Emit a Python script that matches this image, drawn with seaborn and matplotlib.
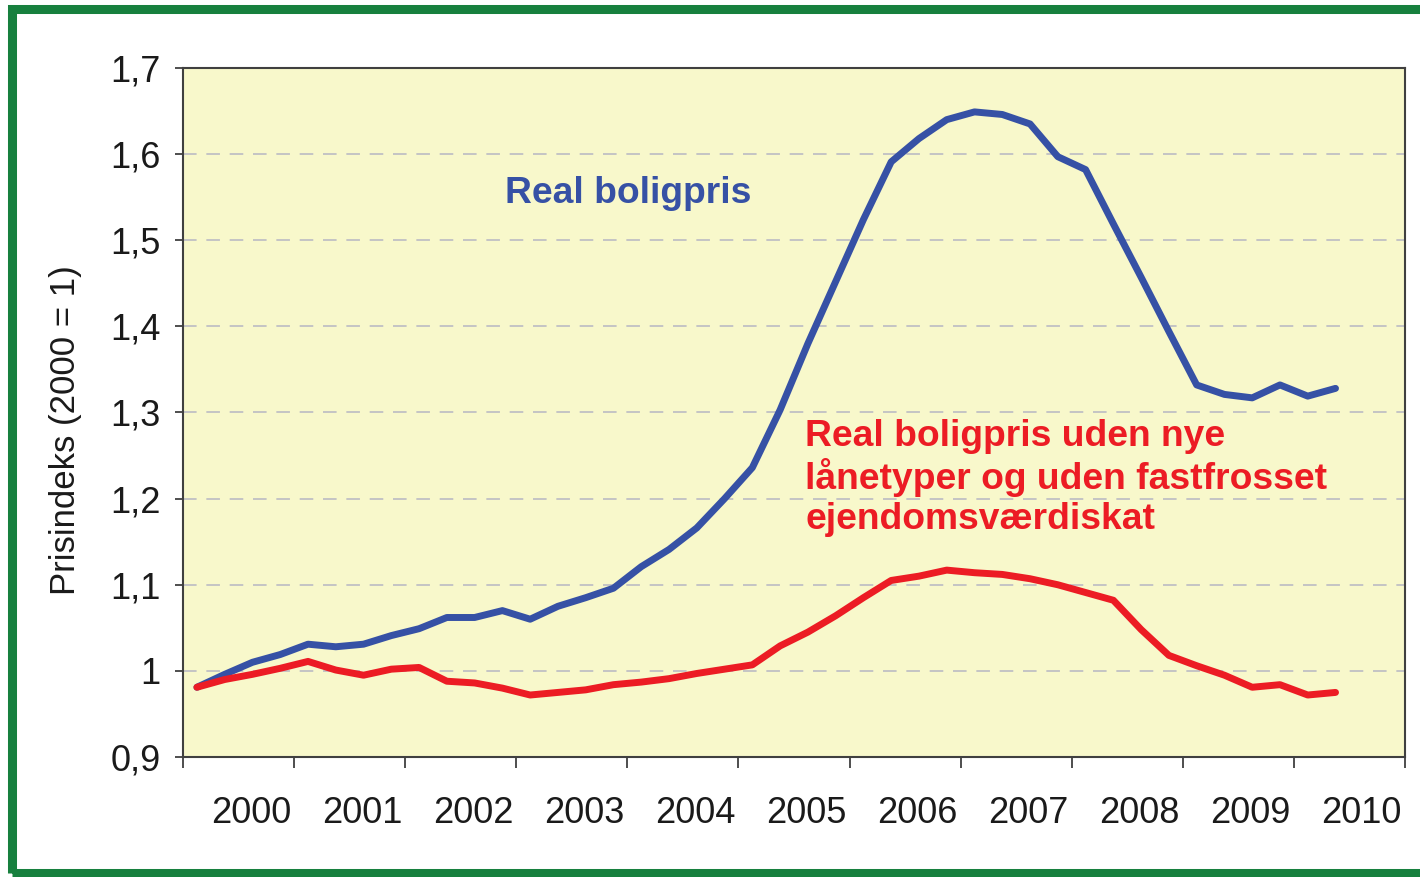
import numpy as np
import pandas as pd
import matplotlib
matplotlib.use("Agg")
import matplotlib.pyplot as plt
import matplotlib.patches as patches
from matplotlib.ticker import FixedLocator, FuncFormatter, NullFormatter
import seaborn as sns

# =====================================
# DATA (quarterly, 2000K1 - 2010K2)
# =====================================

quarters = pd.period_range("2000Q1", "2010Q2", freq="Q")

real_boligpris = [
    0.981, 0.996, 1.010, 1.019, 1.031, 1.028, 1.031, 1.041,
    1.049, 1.062, 1.062, 1.070, 1.060, 1.075, 1.085, 1.096,
    1.121, 1.141, 1.166, 1.200, 1.236, 1.303, 1.380, 1.452,
    1.524, 1.591, 1.618, 1.640, 1.649, 1.646, 1.635, 1.597,
    1.582, 1.519, 1.457, 1.394, 1.332, 1.321, 1.317, 1.332,
    1.319, 1.328,
]

real_uden_nye = [
    0.981, 0.990, 0.996, 1.003, 1.011, 1.001, 0.995, 1.002,
    1.004, 0.988, 0.986, 0.980, 0.972, 0.975, 0.978, 0.984,
    0.987, 0.991, 0.997, 1.002, 1.007, 1.029, 1.045, 1.064,
    1.085, 1.105, 1.110, 1.117, 1.114, 1.112, 1.107, 1.100,
    1.091, 1.082, 1.048, 1.018, 1.006, 0.995, 0.981, 0.984,
    0.972, 0.975,
]

years = list(range(2000, 2011))
y_ticks = [0.9, 1.0, 1.1, 1.2, 1.3, 1.4, 1.5, 1.6, 1.7]

df = pd.DataFrame({
    "Tid": quarters.year + (quarters.quarter - 0.5) / 4,
    "Real boligpris": real_boligpris,
    "Uden nye": real_uden_nye,
})

# =====================================
# PLOT
# =====================================

sns.set_style("ticks")
plt.rcParams["font.family"] = ["Liberation Sans", "DejaVu Sans"]

fig = plt.figure(figsize=(14.2, 8.77), dpi=100)
ax = fig.add_axes([0.1289, 0.1368, 0.8605, 0.7857])
ax.set_facecolor("#f8f8cb")

blue = "#3651a5"
red = "#ec1c24"

sns.lineplot(data=df, x="Tid", y="Real boligpris", color=blue,
             linewidth=5, ax=ax)
sns.lineplot(data=df, x="Tid", y="Uden nye", color=red,
             linewidth=5, ax=ax)

ax.set_xlim(2000, 2011)
ax.set_ylim(0.9, 1.7)

# grid lines, dashed
for v in y_ticks[1:-1]:
    ax.axhline(v, color="#c4c4c4", linewidth=1.4, linestyle=(0, (7, 5)),
               zorder=0.5)

# y axis
ax.set_yticks(y_ticks)
ax.yaxis.set_major_formatter(
    FuncFormatter(lambda v, p: f"{v:g}".replace(".", ",")))
ax.tick_params(axis="y", direction="out", length=6, width=1.3,
               color="#404040", pad=10, labelsize=26, labelcolor="#1a1a1a")

# x axis: ticks between years, labels centered in each year
ax.xaxis.set_major_locator(FixedLocator(list(range(2000, 2012))))
ax.xaxis.set_major_formatter(NullFormatter())
ax.xaxis.set_minor_locator(FixedLocator([y + 0.61 for y in years]))
ax.xaxis.set_minor_formatter(FuncFormatter(lambda v, p: str(int(v))))
ax.tick_params(axis="x", which="major", direction="out", length=8,
               width=1.3, color="#404040")
ax.tick_params(axis="x", which="minor", length=0, pad=28, labelsize=26,
               labelcolor="#1a1a1a")

for s in ax.spines.values():
    s.set_color("#404040")
    s.set_linewidth(1.5)

ax.set_xlabel("")
ax.set_ylabel("Prisindeks (2000 = 1)", fontsize=25, color="#1a1a1a")
ax.yaxis.set_label_coords(-0.083, 0.475)

# labels in the plot
ax.text(2002.9, 1.543, "Real boligpris", color=blue, fontsize=26.8,
        fontweight="bold", va="baseline")
ax.text(2005.6, 1.293,
        "Real boligpris uden nye\nlånetyper og uden fastfrosset\nejendomsværdiskat",
        color=red, fontsize=26.8, fontweight="bold", va="top",
        linespacing=1.16)

# green frame around the whole figure
frame = patches.Rectangle((0.0088, 0.0046), 1.05, 0.9857,
                          transform=fig.transFigure, fill=False,
                          edgecolor="#17803e", linewidth=6.5,
                          clip_on=False)
fig.patches.append(frame)

fig.savefig("out.png", dpi=100)
